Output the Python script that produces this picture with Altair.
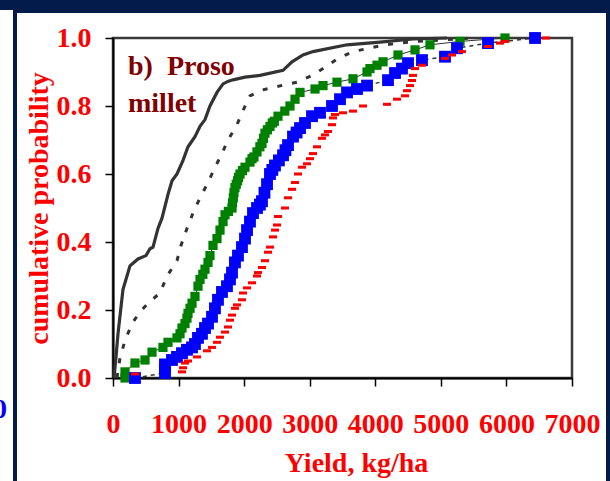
import altair as alt
import pandas as pd

# ---- data (yield kg/ha, cumulative probability) ----
s1_yield = [15, 45, 76, 152, 259, 381, 503, 564, 610, 686, 747, 839, 900, 976, 1068, 1144, 1250,
            1327, 1403, 1479, 1586, 1678, 1760, 1830, 2013, 2242, 2593, 2730, 2898, 3050, 3569,
            4072, 4575, 5094]
s1_prob = [0.0, 0.06, 0.13, 0.26, 0.33, 0.35, 0.36, 0.38, 0.385, 0.44, 0.47, 0.54, 0.58, 0.60,
           0.64, 0.68, 0.71, 0.74, 0.76, 0.80, 0.84, 0.865, 0.873, 0.877, 0.885, 0.89, 0.905,
           0.93, 0.95, 0.96, 0.98, 0.988, 0.997, 1.0]

s2_yield = [60, 76, 107, 183, 290, 412, 564, 717, 824, 976, 1037, 1128, 1220, 1327, 1449, 1556,
            1662, 1754, 1891, 1967, 2089, 2272, 2471, 2806, 3035, 3203, 3431, 3660, 3904, 4148,
            4377, 4636, 5500]
s2_prob = [0.0, 0.018, 0.06, 0.11, 0.16, 0.195, 0.225, 0.25, 0.30, 0.345, 0.39, 0.44, 0.485,
           0.53, 0.575, 0.62, 0.66, 0.70, 0.745, 0.78, 0.83, 0.847, 0.856, 0.87, 0.89, 0.91, 0.94,
           0.96, 0.97, 0.98, 0.985, 0.99, 1.0]

green_yield = [183, 183, 335, 488, 595, 762, 839, 976, 1022, 1052,
               1098, 1128, 1144, 1175, 1205, 1250, 1296, 1327, 1370, 1403,
               1449, 1479, 1525, 1586, 1632, 1678, 1708, 1760, 1815,
               1822, 1835, 1845, 1860, 1880, 1900, 1915, 1937, 1975, 2013,
               2089, 2120, 2150, 2196, 2240, 2272, 2295, 2318, 2355, 2394,
               2430, 2460, 2516, 2620, 2699, 2776, 2852, 3081, 3203, 3416,
               3660, 3874, 3919, 4026, 4118, 4346, 4606, 4834, 5292, 5978]
green_prob = [0.0, 0.018, 0.044, 0.053, 0.076, 0.09, 0.105, 0.118, 0.13, 0.147,
              0.16, 0.176, 0.19, 0.205, 0.22, 0.24, 0.27, 0.29, 0.305, 0.32,
              0.34, 0.36, 0.39, 0.41, 0.435, 0.46, 0.48, 0.49, 0.50,
              0.515, 0.53, 0.545, 0.56, 0.57, 0.58, 0.59, 0.60, 0.61, 0.62,
              0.635, 0.645, 0.65, 0.665, 0.68, 0.69, 0.705, 0.72, 0.73, 0.74,
              0.75, 0.755, 0.77, 0.785, 0.80, 0.82, 0.84, 0.85, 0.86, 0.87,
              0.88, 0.90, 0.91, 0.92, 0.93, 0.95, 0.965, 0.98, 0.99, 1.0]

blue_yield = [335, 793, 793, 793, 900, 976, 1052, 1128, 1205, 1250,
              1296, 1357, 1403, 1449, 1510, 1555, 1601, 1662, 1738, 1784,
              1815, 1860, 1906, 1967, 2013, 2044, 2089, 2135, 2196,
              2240, 2272, 2310, 2349, 2394, 2430, 2470, 2530, 2593, 2630,
              2669, 2745, 2800, 2852, 2928, 3035, 3157, 3340, 3462, 3569,
              3721, 3874, 4194, 4301, 4407, 4499, 4712, 5063, 5246, 5719,
              6436]
blue_prob = [0.0, 0.015, 0.03, 0.04, 0.053, 0.062, 0.073, 0.083, 0.09, 0.10,
             0.118, 0.13, 0.147, 0.16, 0.18, 0.205, 0.23, 0.253, 0.27, 0.29,
             0.31, 0.34, 0.36, 0.385, 0.41, 0.435, 0.46, 0.485, 0.50,
             0.51, 0.52, 0.545, 0.57, 0.60, 0.612, 0.625, 0.64, 0.655, 0.67,
             0.685, 0.71, 0.722, 0.735, 0.75, 0.77, 0.78, 0.80, 0.82, 0.84,
             0.85, 0.86, 0.876, 0.897, 0.91, 0.926, 0.935, 0.945, 0.97, 0.985,
             1.0]

red_yield = [335, 1052, 1068, 1098, 1144, 1281, 1434, 1510, 1586, 1632, 1708, 1754, 1784, 1815,
             1860, 1891, 1967, 1983, 2044, 2120, 2196, 2211, 2272, 2318, 2364, 2394, 2440, 2471,
             2501, 2516, 2623, 2669, 2730, 2776, 2821, 2882, 2959, 3004, 3050, 3111, 3187, 3233,
             3279, 3340, 3355, 3386, 3508, 3660, 3813, 4179, 4331, 4453, 4484, 4529, 4560, 4575,
             4606, 4712, 5063, 5170, 5322, 5719, 5902, 5978, 6603]
red_prob = [0.012, 0.018, 0.03, 0.044, 0.05, 0.062, 0.08, 0.09, 0.105, 0.12, 0.135, 0.15, 0.17,
            0.185, 0.205, 0.215, 0.23, 0.25, 0.265, 0.28, 0.30, 0.31, 0.325, 0.345, 0.37, 0.385,
            0.415, 0.435, 0.45, 0.475, 0.50, 0.53, 0.555, 0.575, 0.60, 0.62, 0.63, 0.645, 0.66,
            0.68, 0.705, 0.715, 0.725, 0.745, 0.765, 0.775, 0.78, 0.785, 0.80, 0.805, 0.82, 0.83,
            0.845, 0.86, 0.875, 0.89, 0.91, 0.92, 0.94, 0.95, 0.96, 0.975, 0.985, 0.99, 1.0]

x_ticks = [0, 1000, 2000, 3000, 4000, 5000, 6000, 7000]
y_ticks = [0.0, 0.2, 0.4, 0.6, 0.8, 1.0]

FONT = "Liberation Serif"
NAVY = "#021b4b"
W, H = 459, 340
PAD_L, PAD_T = 113, 38


def frame(yv, pv):
    return pd.DataFrame({"yield": yv, "prob": pv, "i": list(range(len(yv)))})


xs = alt.X("yield:Q", scale=alt.Scale(domain=[0, 7000], nice=False, zero=True),
           axis=alt.Axis(values=x_ticks, format="d", title="Yield, kg/ha", labelFont=FONT,
                         labelFontSize=28, labelFontWeight="bold", labelColor="#ff0000",
                         labelPadding=24, labelFlush=False, tickColor="#000000", tickSize=8,
                         tickWidth=1.5, domainColor="#000000", domainWidth=2, grid=False,
                         titleFont=FONT, titleFontSize=28, titleFontWeight="bold",
                         titleColor="#ff0000", titleX=243, titleY=93,
                         titleBaseline="alphabetic", titleAnchor="middle", titleAlign="center"))
ys = alt.Y("prob:Q", scale=alt.Scale(domain=[0, 1], nice=False),
           axis=alt.Axis(values=y_ticks, format=".1f", title="cumulative probability",
                         labelFont=FONT, labelFontSize=28, labelFontWeight="bold",
                         labelColor="#ff0000", labelPadding=14, labelBaseline="middle",
                         tickColor="#000000", tickSize=8, tickWidth=1.5,
                         domainColor="#000000", domainWidth=2, grid=False,
                         titleFont=FONT, titleFontSize=28, titleFontWeight="bold",
                         titleColor="#ff0000", titleX=-66, titleY=170, titleAngle=270,
                         titleAlign="center", titleBaseline="alphabetic"))

one = pd.DataFrame({"a": [0]})


def box(x0, x1, y0, y1, color):
    return alt.Chart(one).mark_rect(color=color).encode(
        x=alt.value(x0), x2=alt.value(x1), y=alt.value(y0), y2=alt.value(y1))


navy = [
    box(-PAD_L, 610 - PAD_L, -PAD_T, 10 - PAD_T, NAVY),
    box(13 - PAD_L, 610 - PAD_L, -PAD_T, 13 - PAD_T, NAVY),
    box(13 - PAD_L, 17 - PAD_L, -PAD_T, 481 - PAD_T, NAVY),
    box(606 - PAD_L, 610 - PAD_L, -PAD_T, 481 - PAD_T, NAVY),
]

l1 = alt.Chart(frame(s1_yield, s1_prob)).mark_line(color="#333333", strokeWidth=3.2).encode(
    x=xs, y=ys, order="i:Q")
l2 = alt.Chart(frame(s2_yield, s2_prob)).mark_line(
    color="#333333", strokeWidth=3, strokeDash=[5, 10]).encode(x=xs, y=ys, order="i:Q")

gdf = frame(green_yield, green_prob)
g_line = alt.Chart(gdf).mark_line(color="#333333", strokeWidth=1).encode(x=xs, y=ys, order="i:Q")
g_pts = alt.Chart(gdf).mark_point(shape="square", filled=True, size=85, color="#008000",
                                  opacity=1).encode(x=xs, y=ys)

bdf = frame(blue_yield, blue_prob)
b_line = alt.Chart(bdf).mark_line(color="#333333", strokeWidth=1.5, strokeDash=[4, 4]).encode(
    x=xs, y=ys, order="i:Q")
b_pts = alt.Chart(bdf).mark_point(shape="square", filled=True, size=140, color="#0000ff",
                                  opacity=1).encode(x=xs, y=ys)

r_pts = alt.Chart(frame(red_yield, red_prob)).mark_point(
    shape="M-1,-0.38H1V0.38H-1Z", filled=True, size=64, color="#ff0000", opacity=1).encode(
    x=xs, y=ys)

lab1 = alt.Chart(one).mark_text(text="b)\u00a0\u00a0Proso", font=FONT, fontSize=28,
                                fontWeight="bold", color="#800000", align="left",
                                baseline="alphabetic").encode(x=alt.value(15), y=alt.value(37))
lab2 = alt.Chart(one).mark_text(text="millet", font=FONT, fontSize=28, fontWeight="bold",
                                color="#800000", align="left", baseline="alphabetic").encode(
    x=alt.value(15), y=alt.value(74))
blue0 = alt.Chart(one).mark_text(text="0", font=FONT, fontSize=28, fontWeight="bold",
                                 color="#0000ff", align="right", baseline="alphabetic").encode(
    x=alt.value(7 - PAD_L), y=alt.value(418 - PAD_T))

chart = alt.layer(*navy, l1, l2, g_line, g_pts, b_line, b_pts, r_pts, lab1, lab2, blue0).properties(
    width=W, height=H,
    autosize=alt.AutoSizeParams(type="none"),
    padding={"left": PAD_L, "top": PAD_T, "right": 610 - PAD_L - W, "bottom": 481 - PAD_T - H},
    background="#ffffff",
).configure_view(stroke="#3a3a3a", strokeWidth=2.5, fill="#ffffff")

chart.save("out.html", embed_options={"renderer": "svg", "actions": False})
